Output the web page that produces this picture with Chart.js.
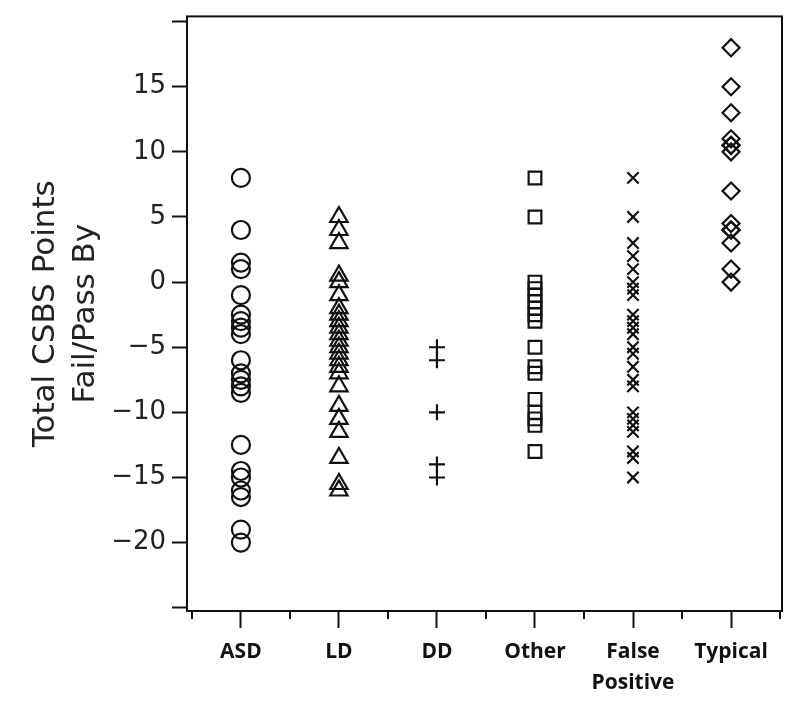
<!DOCTYPE html>
<html>
<head>
<meta charset="utf-8">
<script src="https://cdn.jsdelivr.net/npm/chart.js@4/dist/chart.umd.min.js"></script>
<style>
  html, body { margin: 0; padding: 0; background: #fff; }
  #wrap { width: 800px; height: 704px; }
</style>
</head>
<body>
<div id="wrap"><canvas id="dotChart" width="800" height="704"></canvas></div>
<script>
// Groups along the x axis
const groups = ["ASD", "LD", "DD", "Other", ["False", "Positive"], "Typical"];

// Total CSBS points fail/pass by
const asdValues = [8, 4, 1.5, 1, -1, -2.5, -3, -3.5, -4, -6, -7, -7.5, -8, -8.5, -12.5, -14.5, -15, -16, -16.5, -19, -20];
const ldValues = [5, 4, 3, 0.5, 0, -1, -2, -2.5, -3, -3.5, -4, -4.5, -5, -5.5, -6, -6.5, -7, -8, -9.5, -10.5, -11.5, -13.5, -15.5, -16];
const ddValues = [-5, -6, -10, -14, -15];
const otherValues = [8, 5, 0, -0.5, -1, -1.5, -2, -2.5, -3, -5, -6.5, -7, -9, -10, -10.5, -11, -13];
const falsePosValues = [8, 5, 3, 2, 1, 0, -0.5, -1, -2.5, -3, -3.5, -4, -5, -5.5, -6.5, -7.5, -8, -10, -10.5, -11, -11.5, -13, -13.5, -15];
const typicalValues = [18, 15, 13, 11, 10.5, 10.5, 10, 7, 4.5, 4, 4, 3, 1, 0];

// Y axis ticks (20 and -25 are unlabelled)
const yTicks = [-25, -20, -15, -10, -5, 0, 5, 10, 15, 20];

// Build one dataset per group
function makeSet(values, groupIndex, style, radius) {
  return {
    label: Array.isArray(groups[groupIndex]) ? groups[groupIndex].join(" ") : groups[groupIndex],
    data: values.map((v) => ({ x: groupIndex + 1, y: v })),
    pointStyle: style,
    pointRadius: radius,
    pointHoverRadius: radius,
    pointBorderWidth: 2.2,
    borderColor: "#111",
    backgroundColor: "rgba(0,0,0,0)",
    showLine: false,
  };
}

// Draws the box around the plot and the short minor ticks on x
const framePlugin = {
  id: "frame",
  afterDraw(chart) {
    const { ctx, chartArea } = chart;
    const xScale = chart.scales.x;
    ctx.save();
    ctx.strokeStyle = "#111";
    ctx.lineWidth = 2;
    ctx.strokeRect(chartArea.left, chartArea.top, chartArea.right - chartArea.left, chartArea.bottom - chartArea.top);
    for (let i = 0; i <= groups.length; i++) {
      const px = Math.round(xScale.getPixelForValue(i + 0.5));
      ctx.beginPath();
      ctx.moveTo(px, chartArea.bottom);
      ctx.lineTo(px, chartArea.bottom + 8);
      ctx.stroke();
    }
    ctx.restore();
  },
};

const dotChart = new Chart(document.getElementById("dotChart"), {
  type: "scatter",
  data: {
    datasets: [
      makeSet(asdValues, 0, "circle", 9),
      makeSet(ldValues, 1, "triangle", 10),
      makeSet(ddValues, 2, "cross", 8),
      makeSet(otherValues, 3, "rect", 9),
      makeSet(falsePosValues, 4, "crossRot", 8),
      makeSet(typicalValues, 5, "rectRot", 8.5),
    ],
  },
  options: {
    responsive: false,
    animation: false,
    events: [],
    layout: { padding: { top: 15, right: 18, left: 0, bottom: 0 } },
    plugins: {
      legend: { display: false },
      tooltip: { enabled: false },
    },
    scales: {
      x: {
        type: "linear",
        min: 0.45,
        max: 6.52,
        afterBuildTicks: (scale) => {
          const ticks = [];
          for (let i = 0; i < groups.length; i++) ticks.push({ value: i + 1 });
          scale.ticks = ticks;
        },
        afterFit: (scale) => {
          scale.height = 93;
        },
        border: { display: false },
        grid: {
          drawOnChartArea: false,
          drawTicks: true,
          tickLength: 17,
          tickWidth: 2,
          tickColor: "#111",
        },
        ticks: {
          autoSkip: false,
          maxRotation: 0,
          padding: 9,
          color: "#111",
          font: { family: "'Open Sans', sans-serif", size: 21, weight: "bold", lineHeight: 1.45 },
          callback: (value) => groups[Math.round(value) - 1],
        },
      },
      y: {
        min: -25.25,
        max: 20.4,
        afterBuildTicks: (scale) => {
          scale.ticks = yTicks.map((v) => ({ value: v }));
        },
        afterFit: (scale) => {
          scale.width = 187;
        },
        border: { display: false },
        grid: {
          drawOnChartArea: false,
          drawTicks: true,
          tickLength: 15,
          tickWidth: 2,
          tickColor: "#111",
        },
        ticks: {
          padding: 6,
          color: "#222",
          font: { family: "'DejaVu Sans', sans-serif", size: 26, lineHeight: 0.8 },
          callback: (value) => {
            if (value === 20 || value === -25) return "";
            return value < 0 ? "\u2212" + Math.abs(value) : String(value);
          },
        },
        title: {
          display: true,
          text: ["Total CSBS Points", "Fail/Pass By"],
          color: "#222",
          padding: { top: 26, bottom: 0 },
          font: { family: "'DejaVu Sans', sans-serif", size: 31, lineHeight: 1.29 },
        },
      },
    },
  },
  plugins: [framePlugin],
});
</script>
</body>
</html>
